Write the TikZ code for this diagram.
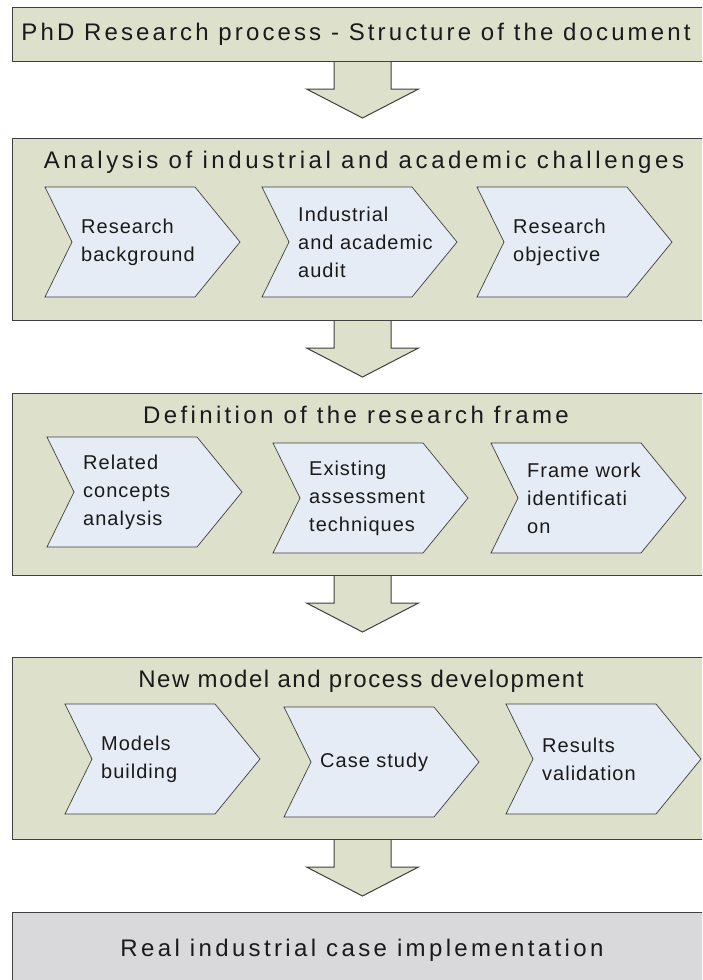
\documentclass[tikz,border=0pt]{standalone}
\usepackage{fontspec}
\setmainfont{Liberation Sans}
\usetikzlibrary{calc}
\definecolor{boxfill}{HTML}{DDE1CC}
\definecolor{chevfill}{HTML}{E6ECF6}
\definecolor{lastfill}{HTML}{D9D9DC}
\definecolor{edge}{HTML}{3F3F3F}
\definecolor{ink}{HTML}{1A1A1A}
\newcommand\mychev[4]{%
  \draw[chevst] (#1,#2) -- ++(150,0) -- ++(45,55) -- ++(-45,55) -- ++(-150,0) -- ++(27,-55) -- cycle;
  \node[chevtxt] (#3) at ({#1+36},{#2+55}) {#4};
}
\begin{document}
\begin{tikzpicture}[x=1pt,y=-1pt,
 panel/.style={draw=edge, line width=1pt, fill=boxfill, rectangle, anchor=north west, minimum width=700pt, inner sep=0pt},
 ttl/.style={font=\fontsize{24}{28}\selectfont\addfontfeature{LetterSpace=#1}, inner sep=0pt, text=ink},
 chevst/.style={draw=edge, line width=0.7pt, fill=chevfill},
 chevtxt/.style={font=\fontsize{20}{28}\selectfont\addfontfeature{LetterSpace=5}, align=left, inner sep=0pt, anchor=west, text=ink},
 arrowst/.style={draw=edge, line width=1pt, fill=boxfill, line join=miter},
 pics/blkarrow/.style={code={\draw[arrowst] (-28.5,0) -- (-28.5,27) -- (-56,27) -- (0,56) -- (56,27) -- (28.5,27) -- (28.5,0);}}
]
\useasboundingbox (0,0) rectangle (702,980);
\clip (0,0) rectangle (702,980);
\fill[white] (0,0) rectangle (702,980);

\node[panel, minimum height=54pt] (b1) at (12,7) {};
\node[panel, minimum height=182pt] (b2) at (12,138) {};
\node[panel, minimum height=182pt] (b3) at (12,393) {};
\node[panel, minimum height=182pt] (b4) at (12,657) {};
\node[panel, fill=lastfill, minimum height=100pt] (b5) at (12,912) {};

\pic at (b1.south) {blkarrow};
\pic at (b2.south) {blkarrow};
\pic at (b3.south) {blkarrow};
\pic at (b4.south) {blkarrow};

\node[ttl=13] (t1) at (356,34) {PhD Research process - Structure of the document};
\node[ttl=15] (t2) at (364,162) {Analysis of industrial and academic challenges};
\node[ttl=14] (t3) at (356,415) {Definition of the research frame};
\node[ttl=6.5] (t4) at (361,681) {New model and process development};
\node[ttl=14] (t5) at (362,950) {Real industrial case implementation};

\mychev{45}{187}{c11}{Research\\background}
\mychev{262}{187}{c12}{Industrial\\and academic\\audit}
\mychev{477}{187}{c13}{Research\\objective}

\mychev{47}{437}{c21}{Related\\concepts\\analysis}
\mychev{273}{443}{c22}{Existing\\assessment\\techniques}
\mychev{491}{443}{c23}{Frame work\\identificati\\on}

\mychev{65}{704}{c31}{Models\\building}
\mychev{284}{707}{c32}{Case study}
\mychev{506}{704}{c33}{Results\\validation}
\end{tikzpicture}
\end{document}
